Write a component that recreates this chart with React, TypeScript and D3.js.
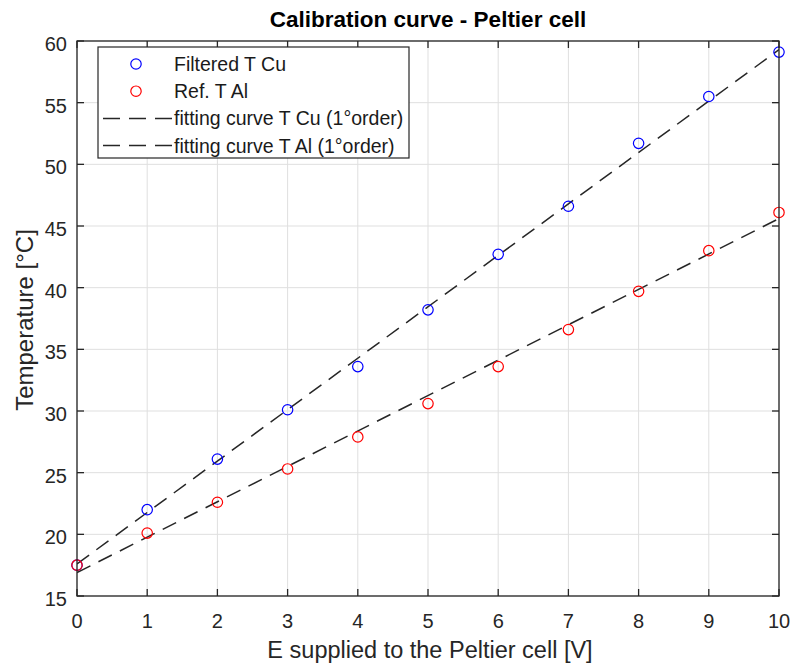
import React from "react";
import * as d3 from "d3";

const voltages = [0, 1, 2, 3, 4, 5, 6, 7, 8, 9, 10];
const tempCu = [17.5, 22.0, 26.1, 30.1, 33.6, 38.2, 42.7, 46.6, 51.7, 55.5, 59.1];
const tempAl = [17.5, 20.1, 22.6, 25.3, 27.9, 30.6, 33.6, 36.6, 39.7, 43.0, 46.1];
const fitX = [0, 10];
const fitCu = [17.6, 59.3];
const fitAl = [16.9, 45.6];
const xTicks = [0, 1, 2, 3, 4, 5, 6, 7, 8, 9, 10];
const yTicks = [15, 20, 25, 30, 35, 40, 45, 50, 55, 60];
const legendLabels = [
  "Filtered T Cu",
  "Ref. T Al",
  "fitting curve T Cu (1°order)",
  "fitting curve T Al (1°order)",
];

const W = 792;
const H = 666;
const L = 77, R = 779, T = 41, B = 596;
const axisColor = "#262626";
const font = "'Liberation Sans', Arial, Helvetica, sans-serif";

export default function App() {
  const x = d3.scaleLinear().domain([0, 10]).range([L, R]);
  const y = d3.scaleLinear().domain([15, 60]).range([B, T]);
  const line = d3
    .line<[number, number]>()
    .x((d) => x(d[0]))
    .y((d) => y(d[1]));
  const fitCuPts = fitX.map((v, i) => [v, fitCu[i]] as [number, number]);
  const fitAlPts = fitX.map((v, i) => [v, fitAl[i]] as [number, number]);
  const dash = "15,9";
  const tickLen = 7;

  return (
    <svg
      width={W}
      height={H}
      style={{ position: "absolute", left: 0, top: 0, background: "#fff" }}
      fontFamily={font}
    >
      <rect x={0} y={0} width={W} height={H} fill="#fff" />
      <defs>
        <clipPath id="clip">
          <rect x={L} y={T} width={R - L} height={B - T} />
        </clipPath>
      </defs>
      {/* grid */}
      <g stroke="#dfdfdf" strokeWidth={1}>
        {xTicks.map((t) => (
          <line key={"gx" + t} x1={x(t)} x2={x(t)} y1={T} y2={B} />
        ))}
        {yTicks.map((t) => (
          <line key={"gy" + t} x1={L} x2={R} y1={y(t)} y2={y(t)} />
        ))}
      </g>
      {/* fit lines */}
      <g clipPath="url(#clip)">
        <path d={line(fitCuPts) || ""} fill="none" stroke="#262626" strokeWidth={1.5} strokeDasharray={dash} />
        <path d={line(fitAlPts) || ""} fill="none" stroke="#262626" strokeWidth={1.5} strokeDasharray={dash} />
      </g>
      {/* markers */}
      {voltages.map((v, i) => (
        <circle key={"cu" + i} cx={x(v)} cy={y(tempCu[i])} r={5.2} fill="none" stroke="#0000ff" strokeWidth={1.2} />
      ))}
      {voltages.map((v, i) => (
        <circle key={"al" + i} cx={x(v)} cy={y(tempAl[i])} r={5.2} fill="none" stroke="#ff0000" strokeWidth={1.2} />
      ))}
      {/* axes box */}
      <rect x={L} y={T} width={R - L} height={B - T} fill="none" stroke={axisColor} strokeWidth={1.3} />
      <g stroke={axisColor} strokeWidth={1.3}>
        {xTicks.map((t) => (
          <g key={"tx" + t}>
            <line x1={x(t)} x2={x(t)} y1={B} y2={B - tickLen} />
            <line x1={x(t)} x2={x(t)} y1={T} y2={T + tickLen} />
          </g>
        ))}
        {yTicks.map((t) => (
          <g key={"ty" + t}>
            <line x1={L} x2={L + tickLen} y1={y(t)} y2={y(t)} />
            <line x1={R} x2={R - tickLen} y1={y(t)} y2={y(t)} />
          </g>
        ))}
      </g>
      {/* tick labels */}
      <g fill={axisColor} fontSize={20}>
        {xTicks.map((t) => (
          <text key={"lx" + t} x={x(t)} y={628} textAnchor="middle">
            {t}
          </text>
        ))}
        {yTicks.map((t) => (
          <text key={"ly" + t} x={L - 10} y={y(t) + 10} textAnchor="end">
            {t}
          </text>
        ))}
      </g>
      {/* axis labels */}
      <text x={(L + R) / 2 + 2} y={658} textAnchor="middle" fontSize={23.5} fill={axisColor}>
        E supplied to the Peltier cell [V]
      </text>
      <text
        transform={`translate(${33},${320}) rotate(-90)`}
        textAnchor="middle"
        fontSize={24}
        fill={axisColor}
      >
        Temperature [°C]
      </text>
      {/* title */}
      <text x={428} y={27} textAnchor="middle" fontSize={22.5} fontWeight="bold" fill="#000">
        Calibration curve - Peltier cell
      </text>
      {/* legend */}
      <g>
        <rect x={98} y={47} width={311} height={111} fill="#fff" stroke={axisColor} strokeWidth={1.2} />
        {legendLabels.map((lab, i) => {
          const cy = 64 + i * 27.2;
          return (
            <g key={"lg" + i}>
              {i === 0 && <circle cx={136} cy={cy} r={5.2} fill="none" stroke="#0000ff" strokeWidth={1.2} />}
              {i === 1 && <circle cx={136} cy={cy} r={5.2} fill="none" stroke="#ff0000" strokeWidth={1.2} />}
              {i >= 2 && (
                <line x1={103} x2={172} y1={cy} y2={cy} stroke="#262626" strokeWidth={1.5} strokeDasharray="17,9" />
              )}
              <text x={174} y={cy + 7} fontSize={19.5} fill="#1a1a1a">
                {lab}
              </text>
            </g>
          );
        })}
      </g>
    </svg>
  );
}
